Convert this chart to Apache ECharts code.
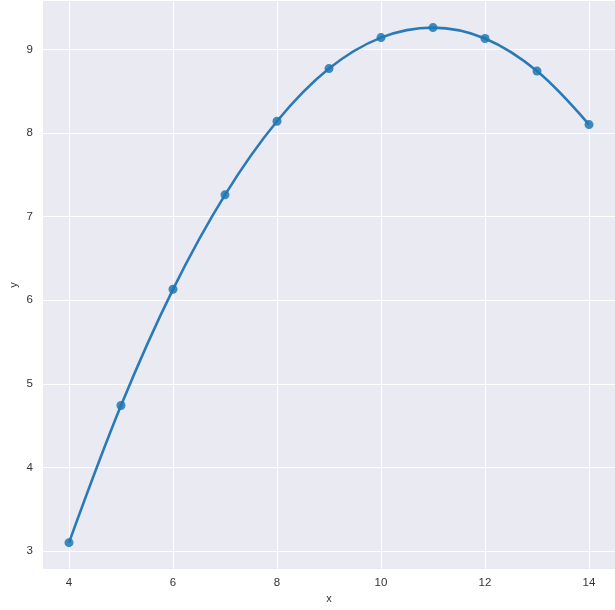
<!DOCTYPE html>
<html><head><meta charset="utf-8">
<script src="https://cdn.jsdelivr.net/npm/echarts@6/dist/echarts.min.js"></script>
<style>html,body{margin:0;padding:0;background:#fff}#c{width:615px;height:610px}</style>
</head><body><div id="c"></div>
<script>
const xVals = [4, 5, 6, 7, 8, 9, 10, 11, 12, 13, 14];
const yVals = [3.10, 4.74, 6.13, 7.26, 8.14, 8.77, 9.14, 9.26, 9.13, 8.74, 8.10];
const xTicks = [4, 6, 8, 10, 12, 14];
const yTicks = [3, 4, 5, 6, 7, 8, 9];

const pts = xVals.map((x, i) => [x, yVals[i]]);
const font = 'Liberation Sans, Arial, sans-serif';
const chart = echarts.init(document.getElementById('c'), null, {renderer: 'canvas'});
chart.setOption({
  animation: false,
  backgroundColor: '#ffffff',
  grid: {left: 43, right: 0, top: 1, bottom: 41, containLabel: false, outerBoundsMode: 'none',
         show: true, backgroundColor: '#EAEAF2', borderWidth: 0},
  xAxis: {
    type: 'value', min: 3.5, max: 14.5,
    name: 'x', nameLocation: 'middle', nameGap: 24, nameMoveOverlap: false,
    nameTextStyle: {color: '#333', fontSize: 11, fontFamily: font},
    axisLine: {show: false},
    axisTick: {show: false, customValues: xTicks},
    axisLabel: {color: '#333', fontSize: 11.5, fontFamily: font, margin: 8,
      customValues: xTicks, formatter: v => String(v)},
    splitLine: {show: true, lineStyle: {color: '#ffffff', width: 1}}
  },
  yAxis: {
    type: 'value', min: 2.785, max: 9.578,
    name: 'y', nameLocation: 'middle', nameGap: 24, nameMoveOverlap: false,
    nameTextStyle: {color: '#333', fontSize: 11, fontFamily: font},
    axisLine: {show: false},
    axisTick: {show: false, customValues: yTicks},
    axisLabel: {color: '#333', fontSize: 11.5, fontFamily: font, margin: 10,
      customValues: yTicks, formatter: v => String(v)},
    splitLine: {show: true, lineStyle: {color: '#ffffff', width: 1}}
  },
  series: [
    {
      type: 'line', data: pts, smooth: 0.35, symbol: 'none',
      lineStyle: {color: '#2a7ab8', width: 2.6}, z: 2
    },
    {
      type: 'scatter', data: pts, symbolSize: 9,
      itemStyle: {color: '#1f77b4', opacity: 0.85}, z: 3
    }
  ]
});
</script></body></html>
